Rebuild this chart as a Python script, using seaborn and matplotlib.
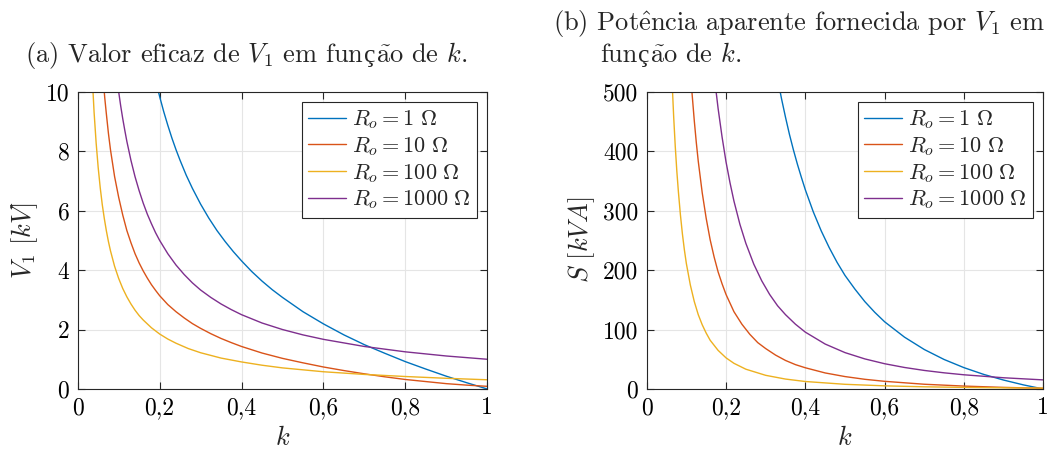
import pandas as pd
import matplotlib.pyplot as plt
import seaborn as sns


##################################################
# Data
##################################################

labels = [r"$R_o = 1\ \Omega$", r"$R_o = 10\ \Omega$",
          r"$R_o = 100\ \Omega$", r"$R_o = 1000\ \Omega$"]
colors = ["#0072BD", "#D95319", "#EDB120", "#7E2F8E"]

# (a) V1 [kV] versus k
k_v_ro1 = [0.19, 0.2, 0.21, 0.22, 0.23, 0.24, 0.25, 0.265, 0.28, 0.3, 0.32,
           0.34, 0.36, 0.38, 0.4, 0.425, 0.45, 0.475, 0.5, 0.55, 0.6, 0.65,
           0.7, 0.75, 0.8, 0.85, 0.9, 0.95, 1.0]
v_ro1 = [10.4, 9.84, 9.33, 8.87, 8.44, 8.05, 7.69, 7.19, 6.75, 6.22, 5.75,
         5.33, 4.96, 4.62, 4.31, 3.95, 3.63, 3.34, 3.08, 2.6, 2.19, 1.82,
         1.49, 1.2, 0.92, 0.67, 0.43, 0.21, 0.0]

k_v_ro10 = [0.062, 0.066, 0.07, 0.075, 0.08, 0.085, 0.09, 0.095, 0.1, 0.11,
            0.12, 0.13, 0.14, 0.15, 0.16, 0.17, 0.18, 0.19, 0.2, 0.22, 0.24,
            0.26, 0.28, 0.3, 0.325, 0.35, 0.375, 0.4, 0.45, 0.5, 0.55, 0.6,
            0.65, 0.7, 0.75, 0.8, 0.85, 0.9, 0.95, 1.0]
v_ro10 = [10.5, 9.8, 9.25, 8.6, 8.05, 7.6, 7.15, 6.8, 6.45, 5.85,
          5.33, 4.92, 4.55, 4.24, 3.97, 3.73, 3.51, 3.32, 3.14, 2.84, 2.6,
          2.39, 2.2, 2.04, 1.86, 1.7, 1.56, 1.43, 1.21, 1.03, 0.88, 0.74,
          0.62, 0.51, 0.41, 0.32, 0.25, 0.18, 0.13, 0.09]

k_v_ro100 = [0.035, 0.04, 0.045, 0.05, 0.055, 0.06, 0.065, 0.07, 0.075, 0.08,
             0.09, 0.1, 0.11, 0.12, 0.13, 0.14, 0.15, 0.16, 0.18, 0.2, 0.22,
             0.24, 0.27, 0.3, 0.35, 0.4, 0.45, 0.5, 0.6, 0.7, 0.8, 0.9, 1.0]
v_ro100 = [10.64, 9.31, 8.28, 7.45, 6.77, 6.2, 5.73, 5.32, 4.96, 4.65,
           4.13, 3.72, 3.38, 3.1, 2.86, 2.65, 2.47, 2.32, 2.06, 1.85, 1.68,
           1.54, 1.36, 1.22, 1.04, 0.91, 0.8, 0.71, 0.58, 0.49, 0.42, 0.36,
           0.31]

k_v_ro1000 = [0.095, 0.1, 0.105, 0.11, 0.115, 0.12, 0.13, 0.14, 0.15, 0.16,
              0.17, 0.18, 0.19, 0.2, 0.22, 0.24, 0.26, 0.28, 0.3, 0.325,
              0.35, 0.375, 0.4, 0.45, 0.5, 0.55, 0.6, 0.7, 0.8, 0.9, 1.0]
v_ro1000 = [10.53, 10.0, 9.52, 9.09, 8.7, 8.33, 7.69, 7.14, 6.67, 6.25,
            5.88, 5.56, 5.26, 5.0, 4.55, 4.17, 3.85, 3.57, 3.33, 3.08,
            2.86, 2.67, 2.5, 2.22, 2.0, 1.82, 1.67, 1.43, 1.25, 1.11, 1.0]

# (b) S [kVA] versus k
k_s_ro1 = [0.33, 0.34, 0.35, 0.36, 0.37, 0.38, 0.39, 0.4, 0.42, 0.44, 0.46,
           0.48, 0.5, 0.525, 0.55, 0.575, 0.6, 0.65, 0.7, 0.75, 0.8, 0.85,
           0.9, 0.95, 1.0]
s_ro1 = [522, 488, 457, 428, 402, 378, 356, 335, 298, 266, 238,
         213, 191, 168, 147, 129, 113, 87.2, 66.4, 49.6, 35.9, 24.5,
         15.0, 6.9, 0.0]

k_s_ro10 = [0.11, 0.114, 0.12, 0.125, 0.13, 0.14, 0.15, 0.16, 0.17, 0.18,
            0.19, 0.2, 0.22, 0.24, 0.26, 0.28, 0.3, 0.325, 0.35, 0.375, 0.4,
            0.45, 0.5, 0.55, 0.6, 0.7, 0.8, 0.9, 1.0]
s_ro10 = [537, 500, 451, 415, 383, 330, 287, 251, 222, 197,
          177, 159, 130, 109, 92, 78, 68, 57, 48, 41, 35.7,
          27, 20.9, 16.3, 12.9, 8.0, 4.9, 2.7, 1.2]

k_s_ro100 = [0.064, 0.068, 0.072, 0.076, 0.08, 0.085, 0.09, 0.095, 0.1, 0.11,
             0.12, 0.13, 0.14, 0.15, 0.16, 0.18, 0.2, 0.22, 0.25, 0.3, 0.35,
             0.4, 0.5, 0.6, 0.7, 0.8, 0.9, 1.0]
s_ro100 = [517, 458, 408, 366, 331, 293, 261, 234, 211, 175,
           147, 125, 108, 94, 82, 65, 52.4, 43.2, 33.3, 23.0, 16.7,
           12.6, 7.9, 5.3, 3.7, 2.7, 2.0, 1.5]

k_s_ro1000 = [0.17, 0.175, 0.18, 0.19, 0.2, 0.21, 0.22, 0.235, 0.25, 0.27,
              0.29, 0.31, 0.33, 0.35, 0.375, 0.4, 0.45, 0.5, 0.55, 0.6, 0.65,
              0.7, 0.75, 0.8, 0.9, 1.0]
s_ro1000 = [529, 500, 472, 424, 382, 347, 316, 277, 245, 210,
            182, 159, 140, 125, 109, 95.6, 75.6, 61.2, 50.6, 42.5, 36.2,
            31.2, 27.2, 23.9, 18.9, 15.3]

x_ticks = [0, 0.2, 0.4, 0.6, 0.8, 1.0]
x_ticklabels = ["0", "0,2", "0,4", "0,6", "0,8", "1"]
v_ticks = [0, 2, 4, 6, 8, 10]
s_ticks = [0, 100, 200, 300, 400, 500]


##################################################
# Long-form tables
##################################################

def long_form(pairs, col):
    frames = []
    for label, (k, y) in zip(labels, pairs):
        frames.append(pd.DataFrame({"k": k, col: y, "Ro": label}))
    return pd.concat(frames, ignore_index=True)


df_v = long_form([(k_v_ro1, v_ro1), (k_v_ro10, v_ro10),
                  (k_v_ro100, v_ro100), (k_v_ro1000, v_ro1000)], "V")
df_s = long_form([(k_s_ro1, s_ro1), (k_s_ro10, s_ro10),
                  (k_s_ro100, s_ro100), (k_s_ro1000, s_ro1000)], "S")


##################################################
# Style
##################################################

sns.set_theme(style="ticks")
plt.rcParams["font.family"] = ["cmr10", "DejaVu Serif"]
plt.rcParams["mathtext.fontset"] = "cm"
plt.rcParams["axes.formatter.use_mathtext"] = True
plt.rcParams["axes.unicode_minus"] = False

AX_COLOR = "#262626"
FS = 17

fig = plt.figure(figsize=(10.53, 4.54), dpi=100)
W, H = 1053, 454

ax_a = fig.add_axes([77.7 / W, 1 - 389 / H, 409.6 / W, 297.3 / H])
ax_b = fig.add_axes([646.7 / W, 1 - 389 / H, 396.6 / W, 297.3 / H])


def style_axes(ax, yticks, ylim, ylabel):
    ax.set_xlim(0, 1)
    ax.set_ylim(*ylim)
    ax.set_xticks(x_ticks)
    ax.set_xticklabels(x_ticklabels)
    ax.set_yticks(yticks)
    ax.set_yticklabels([str(t) for t in yticks])
    ax.grid(True, color="#e5e5e5", linewidth=0.8)
    ax.set_axisbelow(True)
    ax.tick_params(direction="in", top=True, right=True, length=5,
                   width=0.8, color=AX_COLOR, labelsize=FS,
                   labelcolor="black", pad=6)
    for sp in ax.spines.values():
        sp.set_color(AX_COLOR)
        sp.set_linewidth(0.8)
    ax.set_xlabel(r"$k$", fontsize=19, labelpad=5)
    ax.set_ylabel(ylabel, fontsize=19, labelpad=4)
    leg = ax.legend(loc="upper right", fontsize=16, frameon=True,
                    fancybox=False, framealpha=1, edgecolor=AX_COLOR,
                    handlelength=1.7, handletextpad=0.25, borderpad=0.3,
                    labelspacing=0.18, borderaxespad=0.45)
    leg.get_frame().set_linewidth(0.8)


##################################################
# (a) V1 vs k
##################################################

sns.lineplot(data=df_v, x="k", y="V", hue="Ro", hue_order=labels,
             palette=colors, estimator=None, sort=False, linewidth=1.0,
             ax=ax_a)
style_axes(ax_a, v_ticks, (0, 10), r"$V_1\ [kV]$")

##################################################
# (b) S vs k
##################################################

sns.lineplot(data=df_s, x="k", y="S", hue="Ro", hue_order=labels,
             palette=colors, estimator=None, sort=False, linewidth=1.0,
             ax=ax_b)
style_axes(ax_b, s_ticks, (0, 500), r"$S\ [kVA]$")


##################################################
# Captions (cmr10 has no ç, so that glyph comes from a serif fallback)
##################################################

CAP = 19
CM = ["cmr10", "DejaVu Serif"]
ALT = ["Liberation Serif"]


def draw_caption(x_px, y_px, parts, ha="left"):
    renderer = fig.canvas.get_renderer()
    items = []
    x = 0.0
    for s, fam, size, gap in parts:
        t = fig.text(0, 0, s, fontsize=size, family=fam,
                     ha="left", va="baseline")
        items.append((t, x))
        x += t.get_window_extent(renderer).width + gap
    x0 = x_px - x / 2 if ha == "center" else x_px
    for t, dx in items:
        t.set_position(((x0 + dx) / W, 1 - y_px / H))


draw_caption(246, 62, [
    (r"(a) Valor eficaz de $V_1$ em fun", CM, CAP, 0.5),
    ("ç", ALT, CAP * 0.97, 0.5),
    (r"$\tilde{\mathrm{a}}$o de $k$.", CM, CAP, 0),
], ha="center")

draw_caption(553, 30, [
    (r"(b) Pot$\hat{\mathrm{e}}$ncia aparente fornecida por $V_1$ em",
     CM, CAP, 0),
])

draw_caption(600, 62, [
    ("fun", CM, CAP, 0.5),
    ("ç", ALT, CAP * 0.97, 0.5),
    (r"$\tilde{\mathrm{a}}$o de $k$.", CM, CAP, 0),
])

plt.savefig("out.png", dpi=100)
plt.close()
